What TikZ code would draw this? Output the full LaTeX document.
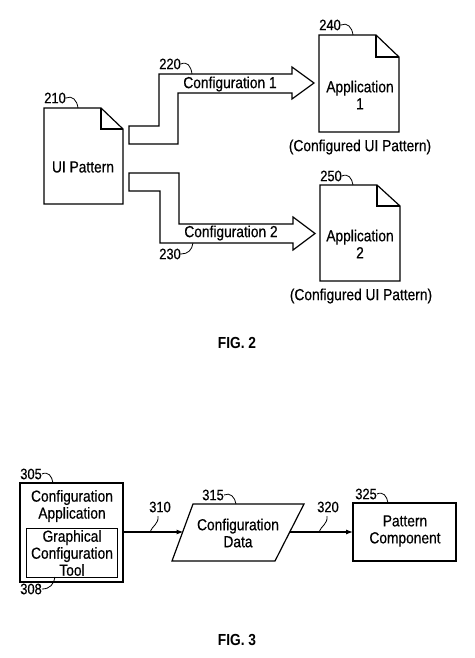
\documentclass[tikz,border=0pt]{standalone}
\usepackage{fontspec}
\setmainfont[FakeStretch=0.86,UprightFeatures={FakeBold=0.5}]{Liberation Sans}
\usetikzlibrary{arrows.meta}
\begin{document}
\begin{tikzpicture}[x=1pt,y=-1pt,
  outline/.style={draw=black,line width=1.2pt,line join=miter},
  thinbox/.style={draw=black,line width=1pt},
  lbl/.style={font=\fontsize{16}{17}\selectfont,inner sep=0pt,align=center},
  refnum/.style={font=\fontsize{15}{16}\selectfont,inner sep=0pt},
  leader/.style={draw=black,line width=0.8pt},
  figcap/.style={font=\fontsize{16}{17}\selectfont\bfseries,inner sep=0pt},
  conn/.style={draw=black,line width=1.1pt,-{Latex[length=7pt,width=5pt]}}]
\useasboundingbox (0,0) rectangle (474,658);

% ---------- FIG. 2 ----------
% UI Pattern document
\draw[outline] (44,108) -- (101,108) -- (123,129) -- (123,204) -- (44,204) -- cycle;
\draw[outline] (101,108) -- (101,129) -- (123,129);
\node[lbl] (uip) at (83,167) {UI Pattern};
\node[refnum,anchor=east] (n210) at (66,98) {210};
\draw[leader] (n210.east) .. controls (72,95) and (77,100) .. (78,108);

% Application 1 document
\draw[outline] (319,35) -- (376,35) -- (399,57) -- (399,132) -- (319,132) -- cycle;
\draw[outline] (376,35) -- (376,57) -- (399,57);
\node[lbl] (app1) at (360,95) {Application\\1};
\node[lbl] (cfg1) at (360,147) {(Configured UI Pattern)};
\node[refnum,anchor=east] (n240) at (341,25) {240};
\draw[leader] (n240.east) .. controls (347,22) and (352,27) .. (353,35);

% Application 2 document
\draw[outline] (320,185) -- (377,185) -- (400,206) -- (400,281) -- (320,281) -- cycle;
\draw[outline] (377,185) -- (377,206) -- (400,206);
\node[lbl] (app2) at (360,244) {Application\\2};
\node[lbl] (cfg2) at (361,296) {(Configured UI Pattern)};
\node[refnum,anchor=east] (n250) at (342,176) {250};
\draw[leader] (n250.east) .. controls (348,173) and (352,178) .. (353,185);

% Block arrow 1
\draw[outline] (129,126) -- (159,126) -- (159,74) -- (292,74) -- (292,67) -- (314,83)
  -- (292,99) -- (292,93) -- (178,93) -- (178,144) -- (129,144) -- cycle;
\node[lbl] (c1) at (230,84) {Configuration 1};
\node[refnum,anchor=east] (n220) at (181,64) {220};
\draw[leader] (n220.east) .. controls (187,61) and (191,66) .. (192,74);

% Block arrow 2
\draw[outline] (129,173) -- (179,173) -- (179,224) -- (293,224) -- (293,217) -- (315,233.5)
  -- (293,250) -- (293,243) -- (160,243) -- (160,191) -- (129,191) -- cycle;
\node[lbl] (c2) at (231,233) {Configuration 2};
\node[refnum,anchor=east] (n230) at (181,254) {230};
\draw[leader] (n230.east) .. controls (188,254) and (192,250) .. (193,243);

\node[figcap] (fig2) at (237,343) {FIG. 2};

% ---------- FIG. 3 ----------
\draw[outline] (20,483) rectangle (123,582);
\coordinate (appE) at (123,532);
\node[lbl] (capp) at (72,506) {Configuration\\Application};
\draw[thinbox] (26,528) rectangle (117,577);
\node[lbl] (gct) at (72,553) {Graphical\\Configuration\\Tool};
\node[refnum,anchor=east] (n305) at (42,474) {305};
\draw[leader] (n305.east) .. controls (48,471) and (52,476) .. (53,483);
\node[refnum,anchor=east] (n308) at (42,589) {308};
\draw[leader] (n308.east) .. controls (50,589) and (54,584) .. (55,577);

% Parallelogram: Configuration Data
\draw[outline] (193,504) -- (304,504) -- (275,561) -- (172,561) -- cycle;
\coordinate (cdW) at (183.5,532);
\coordinate (cdE) at (289.5,532);
\node[lbl] (cd) at (238,533) {Configuration\\Data};
\node[refnum,anchor=east] (n315) at (224,495) {315};
\draw[leader] (n315.east) .. controls (230,492) and (235,497) .. (236,504);

% Pattern Component
\draw[outline] (353,503) rectangle (456,561);
\coordinate (pcW) at (353,532);
\node[lbl] (pc) at (405,531) {Pattern\\Component};
\node[refnum,anchor=east] (n325) at (377,494) {325};
\draw[leader] (n325.east) .. controls (383,491) and (387,496) .. (388,503);

% connectors
\draw[conn] (appE) -- (cdW);
\draw[conn] (cdE) -- (pcW);
\node[refnum] (n310) at (160,507) {310};
\draw[leader] (158,516) .. controls (159,524) and (152,526) .. (150,532);
\node[refnum] (n320) at (328,507) {320};
\draw[leader] (327,516) .. controls (328,524) and (321,526) .. (319,532);

\node[figcap] (fig3) at (237,640) {FIG. 3};
\end{tikzpicture}
\end{document}
